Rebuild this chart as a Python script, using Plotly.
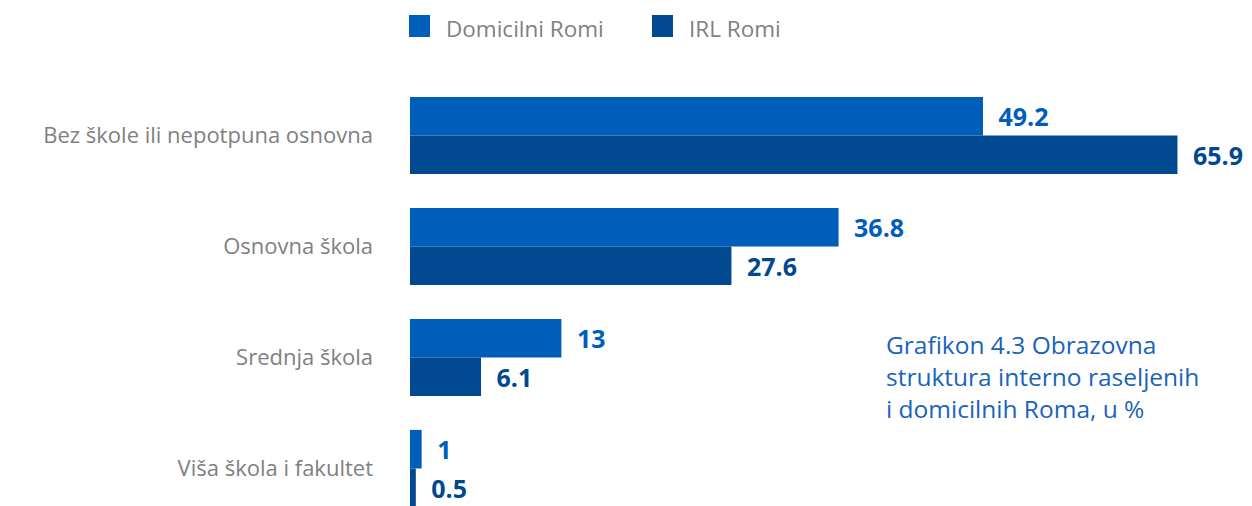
import plotly.graph_objects as go

categories = ["Bez škole ili nepotpuna osnovna", "Osnovna škola", "Srednja škola", "Viša škola i fakultet"]
domicilni = [49.2, 36.8, 13, 1]
irl = [65.9, 27.6, 6.1, 0.5]
series_names = ["Domicilni Romi", "IRL Romi"]

c1 = "#005EBB"
c2 = "#00488F"
font = "Open Sans"
gray = "#808080"

# page body has an 8px margin; plot area spans window x 410..1252, y 80..506
L, T, PW, PH = 410, 80, 842, 426


def px(x):
    return (x - L) / PW


def py(y):
    return (T + PH - y) / PH


fig = go.Figure()
for vals, name, col in [(domicilni, series_names[0], c1), (irl, series_names[1], c2)]:
    fig.add_trace(go.Bar(
        y=categories, x=vals, name=name, orientation="h",
        marker=dict(color=col, line=dict(width=0)),
        text=["\u2002" + str(v) for v in vals], textposition="outside",
        textfont=dict(family=font, size=25, color=col, weight="bold"),
        cliponaxis=False, showlegend=False,
    ))

shapes = []
annotations = []
legend_items = [(series_names[0], c1, 409), (series_names[1], c2, 652)]
for name, col, x0 in legend_items:
    shapes.append(dict(type="rect", xref="paper", yref="paper",
                       x0=px(x0), x1=px(x0 + 21), y0=py(37), y1=py(15),
                       fillcolor=col, line=dict(width=0)))
    annotations.append(dict(text=name, xref="paper", yref="paper",
                            x=px(x0 + 35), y=py(28), xanchor="left", yanchor="middle",
                            showarrow=False, font=dict(family=font, size=22.5, color=gray)))

annotations.append(dict(
    text="Grafikon 4.3 Obrazovna<br>struktura interno raseljenih<br>i domicilnih Roma, u %",
    xref="paper", yref="paper", x=px(884), y=py(326),
    xanchor="left", yanchor="top", align="left", showarrow=False,
    font=dict(family=font, size=24.5, color="#1A63BA"),
))

fig.update_layout(
    width=1252, height=506,
    margin=dict(l=L - 8, r=8, t=T - 8, b=8),
    barmode="group", bargap=0.305, bargroupgap=0,
    plot_bgcolor="white", paper_bgcolor="white",
    font=dict(family=font, color=gray),
    showlegend=False,
    xaxis=dict(range=[0, 72.3], visible=False, fixedrange=True),
    yaxis=dict(type="category", range=[3.338, -0.5], showgrid=False, zeroline=False,
               showline=False, ticks="", ticklabelstandoff=36,
               tickfont=dict(family=font, size=22, color=gray)),
    shapes=shapes,
    annotations=annotations,
)
fig.write_html("out.html")
